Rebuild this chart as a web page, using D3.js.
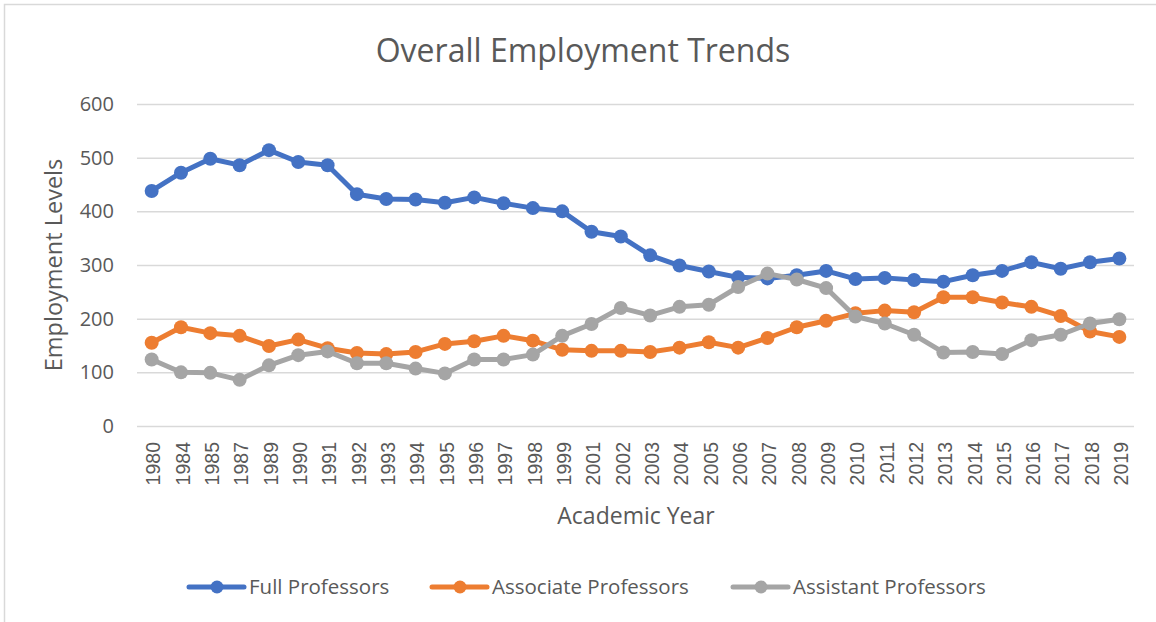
<!DOCTYPE html>
<html>
<head>
<meta charset="utf-8">
<script src="https://cdn.jsdelivr.net/npm/d3@7"></script>
<style>
  body { margin: 0; background: #fff; }
  text { font-family: "Open Sans", sans-serif; fill: #595959; }
</style>
</head>
<body>
<svg class="chart"></svg>
<script>
var years = ["1980","1984","1985","1987","1989","1990","1991","1992","1993","1994","1995","1996","1997","1998","1999",
             "2001","2002","2003","2004","2005","2006","2007","2008","2009","2010","2011","2012","2013","2014","2015",
             "2016","2017","2018","2019"];
var fullProfessors = [438,472,498,486,514,492,486,432,423,422,416,426,415,406,400,362,353,318,299,288,277,275,281,289,274,276,272,269,281,289,305,293,305,312];
var associateProfessors = [155,184,173,168,149,161,145,136,134,138,153,158,168,159,142,140,140,138,146,156,146,164,184,196,210,215,212,240,240,230,222,205,176,166];
var assistantProfessors = [124,100,99,86,113,132,139,117,117,107,98,124,124,133,168,190,220,206,222,226,259,284,273,257,204,191,170,137,138,134,160,170,191,199];
var seriesNames = ["Full Professors", "Associate Professors", "Assistant Professors"];
var yTicks = [0, 100, 200, 300, 400, 500, 600];

var colors = ["#4472C4", "#ED7D31", "#A5A5A5"];
var allSeries = [fullProfessors, associateProfessors, assistantProfessors];

var width = 1156, height = 622;
var plot = {left: 137, right: 1134, top: 104, bottom: 426};

var svg = d3.select(".chart").attr("width", width).attr("height", height);

// outer chart border (only top and left are in frame)
svg.append("rect")
   .attr("x", 4.5).attr("y", 4.5)
   .attr("width", width + 10).attr("height", height + 10)
   .attr("fill", "none").attr("stroke", "#d9d9d9").attr("stroke-width", 1.5);

var x = d3.scaleBand().domain(years).range([plot.left, plot.right]).padding(0);
var y = d3.scaleLinear().domain([0, 600]).range([plot.bottom, plot.top]);

// gridlines
var grid = svg.append("g")
   .attr("transform", "translate(" + plot.left + ",0)")
   .call(d3.axisLeft(y).tickValues(yTicks).tickSize(-(plot.right - plot.left)).tickFormat(""));
grid.select(".domain").remove();
grid.selectAll("line").attr("stroke", "#d9d9d9").attr("stroke-width", 1.5);

// y labels
var yAxis = svg.append("g")
   .attr("transform", "translate(114,0)")
   .call(d3.axisLeft(y).tickValues(yTicks).tickSize(0).tickPadding(0));
yAxis.select(".domain").remove();
yAxis.selectAll("text").style("font-size", "20px").attr("fill", "#595959")
     .style("font-family", "'Open Sans', sans-serif");

// x labels
var xAxis = svg.append("g")
   .attr("transform", "translate(0," + plot.bottom + ")")
   .call(d3.axisBottom(x).tickSize(0));
xAxis.select(".domain").remove();
xAxis.selectAll("text")
     .attr("y", 0).attr("x", -16)
     .attr("dy", "0.45em")
     .attr("transform", "rotate(-90)")
     .style("text-anchor", "end")
     .style("font-size", "19.5px")
     .style("font-family", "'Liberation Sans', Arial, sans-serif")
     .attr("fill", "#595959");

// lines + markers
var line = d3.line()
  .x(function(d, i) { return x(years[i]) + x.bandwidth() / 2; })
  .y(function(d) { return y(d); });

allSeries.forEach(function(s, k) {
  svg.append("path")
     .datum(s)
     .attr("d", line)
     .attr("fill", "none")
     .attr("stroke", colors[k])
     .attr("stroke-width", 5)
     .attr("stroke-linejoin", "round");
  svg.append("g").selectAll("circle")
     .data(s).enter().append("circle")
     .attr("cx", function(d, i) { return x(years[i]) + x.bandwidth() / 2; })
     .attr("cy", function(d) { return y(d); })
     .attr("r", 7)
     .attr("fill", colors[k]);
});

// title
svg.append("text")
   .attr("x", 583).attr("y", 62)
   .style("text-anchor", "middle")
   .style("font-size", "32px")
   .text("Overall Employment Trends");

// axis titles
svg.append("text")
   .attr("transform", "translate(62," + ((plot.top + plot.bottom) / 2) + ") rotate(-90)")
   .style("text-anchor", "middle")
   .style("font-size", "23.5px")
   .text("Employment Levels");

svg.append("text")
   .attr("x", 636).attr("y", 524)
   .style("text-anchor", "middle")
   .style("font-size", "23px")
   .text("Academic Year");

// legend
var legendX = [189, 432, 733];
seriesNames.forEach(function(name, k) {
  var g = svg.append("g").attr("transform", "translate(" + legendX[k] + ",587)");
  g.append("line").attr("x1", 0).attr("x2", 55).attr("y1", 0).attr("y2", 0)
   .attr("stroke", colors[k]).attr("stroke-width", 5).attr("stroke-linecap", "round");
  g.append("circle").attr("cx", 28).attr("cy", 0).attr("r", 6.5).attr("fill", colors[k]);
  g.append("text").attr("x", 60).attr("y", 0).attr("dy", "0.35em")
   .style("font-size", "20.5px").text(name);
});
</script>
</body>
</html>
